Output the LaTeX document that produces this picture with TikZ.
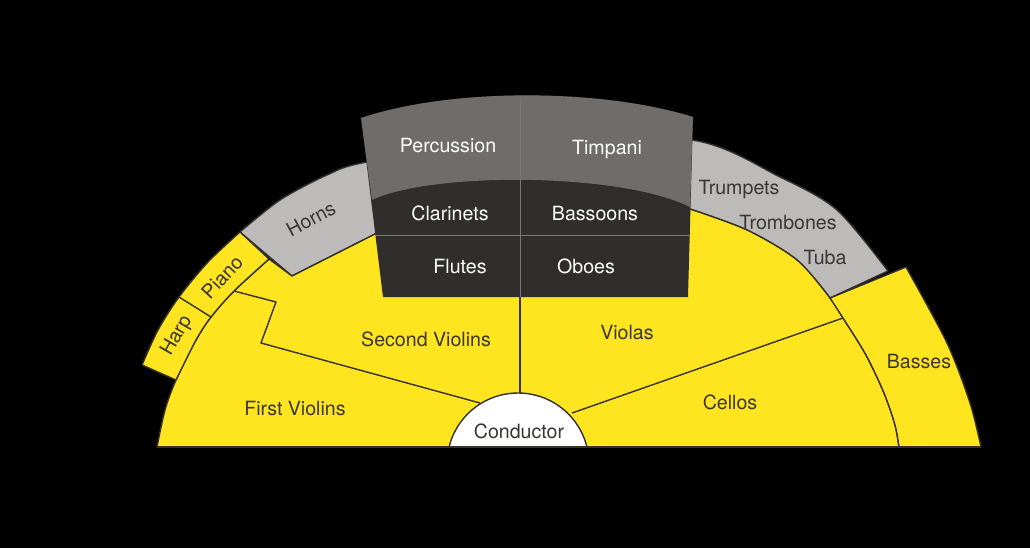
\documentclass[tikz,border=0pt]{standalone}
\usepackage{fontspec}
\setmainfont{TeX Gyre Heros}
\usepackage{tikz}
\definecolor{strings}{HTML}{FFE51F}
\definecolor{brass}{HTML}{BDBBBA}
\definecolor{perc}{HTML}{6F6C69}
\definecolor{winds}{HTML}{302E2C}
\definecolor{edge}{HTML}{35312B}
\definecolor{split}{HTML}{7C7975}
\definecolor{ink}{HTML}{3A3632}

\begin{document}
\begin{tikzpicture}[x=0.5pt,y=-0.5pt,
    zone/.style={draw=edge,line width=0.7pt,line join=round},
    lbl/.style={text=ink,font=\fontsize{9.8}{12}\selectfont,inner sep=0pt},
    wlbl/.style={lbl,text=white}]

    % background
    \fill[black] (0,0) rectangle (1030,548);
    \useasboundingbox (0,0) rectangle (1030,548);

    % brass band behind everything
    \filldraw[zone,fill=brass] (292,276) -- (240,232)
        -- plot[smooth] coordinates {(240,232) (280,200) (327,175) (367,162) (520,138) (692,140) (780,177) (837,210) (888,271)}
        -- (830,298)
        -- plot[smooth] coordinates {(830,298) (797,260) (747,230) (687,208)}
        -- (377,233) -- cycle;

    % strings
    \filldraw[zone,fill=strings] (157,447)
        -- plot[smooth] coordinates {(157,447) (165,410) (176,380) (196,340) (211,317) (234,291) (269,259)}
        -- (292,276) -- (377,233) -- (687,208)
        -- plot[smooth] coordinates {(687,208) (747,230) (797,260) (830,298) (843,318) (866,355) (884,393) (895,425) (899,447)}
        -- cycle;

    % harp and piano
    \filldraw[zone,fill=strings] plot[smooth] coordinates {(142,365) (158,330) (179,297) (208,262) (240,232)}
        -- (269,259)
        -- plot[smooth] coordinates {(269,259) (234,291) (211,317) (196,340) (176,380)}
        -- cycle;
    \draw[zone] (179,297) -- (211,317);

    % basses
    \filldraw[zone,fill=strings] (830,298) -- (906,267)
        -- plot[smooth] coordinates {(906,267) (947,343) (970,403) (981,447)}
        -- (899,447)
        -- plot[smooth] coordinates {(899,447) (895,425) (884,393) (866,355) (843,318) (830,298)}
        -- cycle;

    % woodwinds and percussion
    \fill[winds] (361,118) .. controls (450,88) and (600,88) .. (693,117) -- (688,297) -- (383,297) -- cycle;
    \fill[perc] (361,118) .. controls (450,88) and (600,88) .. (693,117) -- (690,207)
        .. controls (620,172) and (430,172) .. (372,200) -- cycle;
    \draw[split,line width=0.5pt] (520,97) -- (520,297);
    \draw[split,line width=0.5pt] (375,235) -- (689,235);

    % string sections
    \draw[zone] (520,297) -- (520,393);
    \draw[zone] (234,291) -- (276,302) -- (261,343) -- (480,403);
    \draw[zone] (843,318) -- (572,413);

    % conductor
    \begin{scope}
        \clip (0,0) rectangle (1030,447);
        \filldraw[zone,fill=white] (518,464) circle (71);
    \end{scope}
    \draw[zone] (157,447) -- (981,447);

    % labels
    \node[wlbl,anchor=base] (percussion) at (448,152) {Percussion};
    \node[wlbl,anchor=base] (timpani) at (607,154) {Timpani};
    \node[wlbl,anchor=base] (clarinets) at (450,220) {Clarinets};
    \node[wlbl,anchor=base] (bassoons) at (595,220) {Bassoons};
    \node[wlbl,anchor=base] (flutes) at (460,273) {Flutes};
    \node[wlbl,anchor=base] (oboes) at (586,273) {Oboes};
    \node[lbl,rotate=28] (horns) at (311,219) {Horns};
    \node[lbl,rotate=47] (piano) at (222,277) {Piano};
    \node[lbl,rotate=60] (harp) at (177,336) {Harp};
    \node[lbl,anchor=base] (trumpets) at (739,194) {Trumpets};
    \node[lbl,anchor=base] (trombones) at (788,229) {Trombones};
    \node[lbl,anchor=base] (tuba) at (825,264) {Tuba};
    \node[lbl,anchor=base] (second) at (426,346) {Second Violins};
    \node[lbl,anchor=base] (violas) at (627,339) {Violas};
    \node[lbl,anchor=base] (first) at (295,415) {First Violins};
    \node[lbl,anchor=base] (cellos) at (730,409) {Cellos};
    \node[lbl,anchor=base] (basses) at (919,368) {Basses};
    \node[lbl,anchor=base] (conductor) at (519,438) {Conductor};

\end{tikzpicture}
\end{document}
